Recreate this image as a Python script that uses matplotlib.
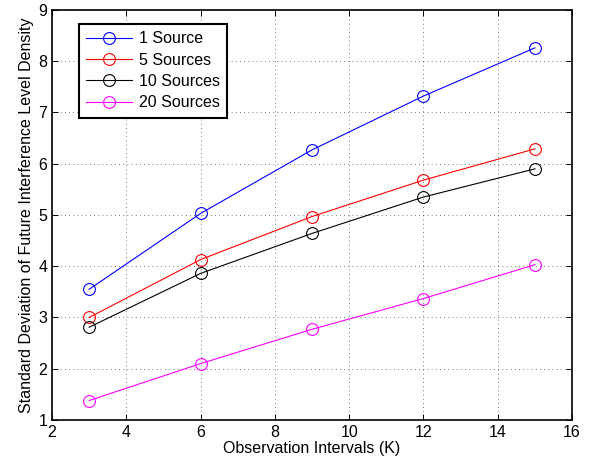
import matplotlib
matplotlib.use('Agg')
import matplotlib.pyplot as plt

plt.rcParams['font.family'] = ['Liberation Sans', 'DejaVu Sans']

intervals = [3, 6, 9, 12, 15]
src_1 = [3.55, 5.03, 6.27, 7.32, 8.26]
src_5 = [3.00, 4.13, 4.97, 5.68, 6.29]
src_10 = [2.81, 3.86, 4.64, 5.35, 5.90]
src_20 = [1.38, 2.10, 2.77, 3.37, 4.03]
labels = ['1 Source', '5 Sources', '10 Sources', '20 Sources']
colors = ['#0000ff', '#ff0000', '#000000', '#ff00ff']

fig = plt.figure(figsize=(5.91, 4.66), dpi=100)
ax = fig.add_axes([0.088, 0.0987, 0.88, 0.88])

for ys, lab, c in zip([src_1, src_5, src_10, src_20], labels, colors):
    ax.plot(intervals, ys, color=c, lw=0.8, marker='o', ms=8.5,
            mfc='none', mec=c, mew=0.8, label=lab)

ax.set_xlim(2, 16)
ax.set_ylim(1, 9)
ax.set_xticks(range(2, 17, 2))
ax.set_yticks(range(1, 10))
ax.grid(True, ls=(0, (1, 4)), color='black', lw=0.6, alpha=0.7)
ax.tick_params(direction='in', top=True, right=True, labelsize=11.5, length=4, width=0.7)
for s in ax.spines.values():
    s.set_linewidth(1.2)

ax.set_xlabel('Observation Intervals (K)', fontsize=11.5, labelpad=1)
ax.set_ylabel('Standard Deviation of Future Interference Level Density', fontsize=11.5, labelpad=3)

leg = ax.legend(loc='upper left', bbox_to_anchor=(0.036, 0.985), fontsize=11.5,
                fancybox=False, framealpha=1, edgecolor='black',
                handlelength=2.9, borderpad=0.45, labelspacing=0.4, handletextpad=0.4)
leg.get_frame().set_linewidth(1.5)

fig.savefig('out.png', dpi=100)
